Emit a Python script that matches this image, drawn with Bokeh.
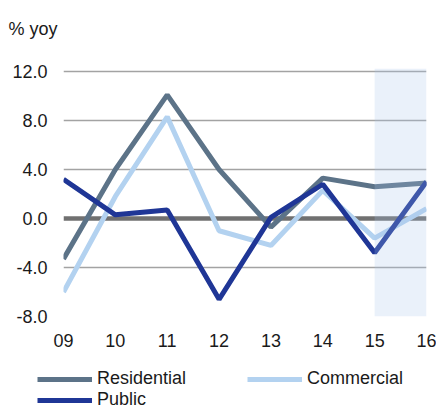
from bokeh.plotting import figure
from bokeh.layouts import column
from bokeh.models import (FixedTicker, PrintfTickFormatter, Span, BoxAnnotation,
                          Legend, LegendItem, Label)
from bokeh.embed import file_html
from bokeh.resources import INLINE

years = ["09", "10", "11", "12", "13", "14", "15", "16"]
residential = [-3.3, 4.0, 10.1, 4.0, -0.7, 3.3, 2.6, 2.9]
commercial = [-6.0, 1.8, 8.3, -1.0, -2.2, 2.3, -1.6, 0.8]
public = [3.2, 0.3, 0.7, -6.6, 0.1, 2.8, -2.8, 3.0]
series_names = ["Residential", "Commercial", "Public"]
unit_label = "% yoy"
y_ticks = [-8, -4, 0, 4, 8, 12]
forecast_start = 6  # index of "15"

xs = list(range(len(years)))
series = [residential, commercial, public]
FONT = "Liberation Sans"
FS = "18px"
TXT = "#1a1a1a"
COLORS = ["#5c7388", "#b3d2f0", "#1f3696"]
LW = 5
W = 436
HEAD_H = 42

# header strip with the unit label
head = figure(width=W, height=HEAD_H, output_backend="svg", toolbar_location=None,
              x_range=(0, W), y_range=(0, HEAD_H), x_axis_location=None,
              y_axis_location=None, min_border=0)
head.frame_align = False
head.outline_line_color = None
head.grid.visible = False
head.add_layout(Label(x=8, y=14, text=unit_label, text_font=FONT,
                      text_font_size=FS, text_color=TXT,
                      text_baseline="alphabetic"))

p = figure(width=W, height=312, output_backend="svg", toolbar_location=None,
           x_range=(0, len(years) - 1), y_range=(-8, 12.25),
           min_border_left=63, min_border_right=10, min_border_top=26,
           min_border_bottom=38)
p.frame_align = False
p.outline_line_color = None
p.background_fill_color = "white"
p.border_fill_color = "white"

# axes
p.xaxis.ticker = FixedTicker(ticks=xs)
p.xaxis.major_label_overrides = {i: y for i, y in enumerate(years)}
p.yaxis.ticker = FixedTicker(ticks=y_ticks)
p.yaxis.formatter = PrintfTickFormatter(format="%.1f")
for ax in (p.xaxis[0], p.yaxis[0]):
    ax.axis_line_color = None
    ax.major_tick_line_color = None
    ax.minor_tick_line_color = None
    ax.major_tick_out = 0
    ax.major_label_text_font = FONT
    ax.major_label_text_font_size = FS
    ax.major_label_text_color = TXT
p.yaxis.major_label_standoff = 16
p.xaxis.major_label_standoff = 17

p.xgrid.visible = False
p.ygrid.ticker = FixedTicker(ticks=[t for t in y_ticks if t != 0])
p.ygrid.grid_line_color = "#a3a3a3"
p.ygrid.grid_line_width = 1.4

zero = Span(location=0, dimension="width", line_color="#707070", line_width=4.5,
            level="underlay")
p.add_layout(zero)

for vals, col in zip(series, COLORS):
    p.line(xs, vals, line_color=col, line_width=LW)

shade = BoxAnnotation(left=forecast_start, right=len(years) - 1,
                      fill_color="#a7c5ea", fill_alpha=0.24, line_color=None)
p.add_layout(shade)

# legend strip below the chart (its lines lie outside its visible range)
lg = figure(width=W, height=56, output_backend="svg", toolbar_location=None,
            x_range=(0, 1), y_range=(100, 101), x_axis_location=None,
            y_axis_location=None, min_border=0)
lg.frame_align = False
lg.outline_line_color = None
lg.grid.visible = False
lg_r = [lg.line(xs, vals, line_color=c, line_width=LW)
        for vals, c in zip(series, COLORS)]

common = dict(padding=0, margin=0, glyph_width=55, glyph_height=18,
              label_height=18, label_standoff=5, label_text_font=FONT,
              label_text_font_size=FS, label_text_color=TXT,
              border_line_color=None, background_fill_alpha=0,
              orientation="horizontal")
legend1 = Legend(items=[LegendItem(label=series_names[0], renderers=[lg_r[0]]),
                        LegendItem(label=series_names[1], renderers=[lg_r[1]])],
                 location=(37, 21), spacing=61, **common)
legend2 = Legend(items=[LegendItem(label=series_names[2], renderers=[lg_r[2]])],
                 location=(37, 0), **common)
lg.add_layout(legend1, "center")
lg.add_layout(legend2, "center")

layout = column(head, p, lg, spacing=0)
open("out.html", "w").write(file_html(layout, INLINE))
